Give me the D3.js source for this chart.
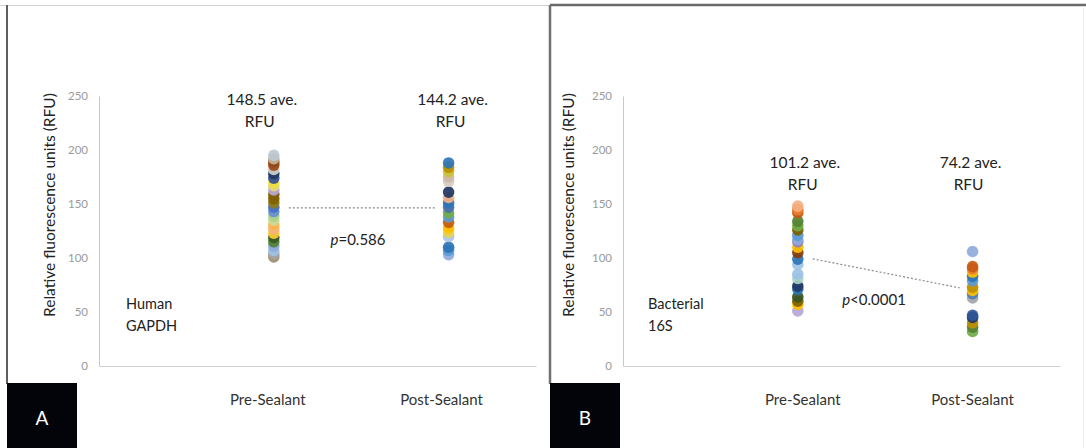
<!DOCTYPE html>
<html>
<head>
<meta charset="utf-8">
<script src="https://cdn.jsdelivr.net/npm/d3@7/dist/d3.min.js"></script>
<style>
  body { margin: 0; background: #fff; }
  svg { display: block; font-family: Lato, "Open Sans", sans-serif; }
</style>
</head>
<body>
<svg id="chart" width="1086" height="448"></svg>
<script>
// categories and ticks
var categories = ["Pre-Sealant", "Post-Sealant"];
var yTicks = [0, 50, 100, 150, 200, 250];

// panel A - human GAPDH (top to bottom)
var gapdhPre = [195, 192, 189, 186, 182, 178, 174, 170, 167, 163, 159, 155, 151, 147, 143, 139, 135, 131, 127, 123, 119, 115, 111, 107, 104, 101];
var gapdhPreColors = ["#BCC8D2", "#C7B497", "#8E4A1F", "#9E480E", "#D0CFCB", "#1F3864", "#34508F", "#EEDD44", "#E9D86A", "#B6A9D8", "#7F6000", "#806000", "#8F7A1A", "#4472C4", "#698ED0", "#A9D18E", "#C8DC9A", "#FFB347", "#F4B183", "#FFCD33", "#385723", "#548235", "#8FAADC", "#9DC3E6", "#A5A5A5", "#A08C6E"];
var gapdhPost = [188, 184, 180, 175, 171, 161, 156, 151, 147, 142, 138, 133, 128, 124, 120, 110, 107, 103];
var gapdhPostColors = ["#2E75B6", "#BF9000", "#C9C23A", "#CDB8A8", "#D6CBC0", "#203864", "#F4B183", "#2E75B6", "#4A6FB0", "#70AD47", "#5B9BD5", "#C55A11", "#FFC000", "#E8D24A", "#A9C4E8", "#2E75B6", "#5B9BD5", "#8FAADC"];
var gapdhLine = [146.4, 146.4];

// panel B - bacterial 16S
var bactPre = [148, 145, 142, 134, 130, 126, 121, 117, 115, 110, 105, 99, 94, 85, 81, 74, 71, 64, 60, 57, 51];
var bactPreColors = ["#F4B183", "#ED7D31", "#C55A11", "#548235", "#70AD47", "#7F6000", "#5B9BD5", "#8FAADC", "#8E7CC3", "#FFC000", "#843C0C", "#2E75B6", "#9DC3E6", "#9DC3E6", "#A9D1C4", "#1F3864", "#2E75B6", "#375623", "#7F6000", "#FFC000", "#B4A7D6"];
var bactPost = [106, 92, 90, 87, 83, 79, 73, 70, 67, 63, 47, 45, 40, 36, 32];
var bactPostColors = ["#8FAADC", "#C55A11", "#ED7D31", "#FFC000", "#2E75B6", "#5B9BD5", "#BF9000", "#FFC000", "#4A7EBB", "#A5A5A5", "#2F5597", "#203864", "#BF9000", "#548235", "#70AD47"];
var bactLine = [102, 70];

var panels = [
  { left: 99, letter: "A", border: 7, pre: gapdhPre, preC: gapdhPreColors, post: gapdhPost, postC: gapdhPostColors,
    line: gapdhLine, aveText: ["148.5 ave.", "144.2 ave."], aveY: 105, aveDx: [-12, 4], titleX: 50,
    pText: "=0.586", pPos: [358, 245], gene: ["Human", "GAPDH"], geneX: 126, catDx: [-6, -7] },
  { left: 623, letter: "B", border: 550, pre: bactPre, preC: bactPreColors, post: bactPost, postC: bactPostColors,
    line: bactLine, aveText: ["101.2 ave.", "74.2 ave."], aveY: 168, aveDx: [7, -2], titleX: 569,
    pText: "<0.0001", pPos: [874, 305], gene: ["Bacterial", "16S"], geneX: 648, catDx: [5, 0] }
];

var svg = d3.select("#chart");

// outer frame lines
svg.append("line").attr("x1", 0).attr("x2", 550).attr("y1", 5.5).attr("y2", 5.5)
  .attr("stroke", "#d4d4d4").attr("stroke-width", 1);
svg.append("line").attr("x1", 550).attr("x2", 1086).attr("y1", 5).attr("y2", 5)
  .attr("stroke", "#6a6a6a").attr("stroke-width", 2.5);
svg.append("line").attr("x1", 1083.5).attr("x2", 1083.5).attr("y1", 6).attr("y2", 448)
  .attr("stroke", "#eeeeee").attr("stroke-width", 1);

var defs = svg.append("defs");
defs.append("filter").attr("id", "soft")
  .append("feGaussianBlur").attr("stdDeviation", 0.55);

panels.forEach(function(p) {
  var g = svg.append("g");

  var x = d3.scaleLinear().domain([0, 2.5]).range([p.left, p.left + 437]);
  var y = d3.scaleLinear().domain([0, 250]).range([366, 96]);

  // panel left border
  g.append("line")
    .attr("x1", p.border).attr("x2", p.border).attr("y1", 5).attr("y2", 384)
    .attr("stroke", p.letter == "A" ? "#5f5f5f" : "#707070")
    .attr("stroke-width", p.letter == "A" ? 2 : 2.5);

  // y axis
  var yAxis = g.append("g")
    .attr("transform", "translate(" + p.left + ",0)")
    .call(d3.axisLeft(y).tickValues(yTicks).tickSize(0).tickPadding(11));
  yAxis.select(".domain").attr("stroke", "#c8c8c8");
  yAxis.selectAll("text").attr("fill", "#9a9a9a").style("font-size", "11.5px")
    .style("font-family", "Lato, sans-serif");

  // x baseline
  var xAxis = g.append("g")
    .attr("transform", "translate(0," + y(0) + ")")
    .call(d3.axisBottom(x).tickValues([]).tickSizeOuter(0));
  xAxis.select(".domain").attr("stroke", "#d0d0d0");

  // y title
  g.append("text")
    .attr("transform", "translate(" + (p.titleX + 5) + "," + y(149) + ") rotate(-90)")
    .attr("text-anchor", "middle")
    .attr("fill", "#222")
    .style("font-size", "15.5px")
    .text("Relative fluorescence units (RFU)");

  // dashed line between the groups, kept clear of the dot columns
  var x1 = x(1), x2 = x(2);
  var t0 = 15 / (x2 - x1), t1 = 1 - 13 / (x2 - x1);
  var yA = p.line[0], yB = p.line[1];
  g.append("line")
    .attr("x1", x1 + t0 * (x2 - x1)).attr("y1", y(yA + t0 * (yB - yA)))
    .attr("x2", x1 + t1 * (x2 - x1)).attr("y2", y(yA + t1 * (yB - yA)))
    .attr("stroke", "#8a8a8a")
    .attr("stroke-width", 1.2)
    .attr("stroke-dasharray", "2,2");

  // dots
  var cols = [
    { cx: 1, vals: p.pre, colors: p.preC },
    { cx: 2, vals: p.post, colors: p.postC }
  ];
  cols.forEach(function(c) {
    g.append("g").attr("filter", "url(#soft)")
      .selectAll("circle")
      .data(c.vals.slice().reverse())
      .enter()
      .append("circle")
      .attr("cx", x(c.cx))
      .attr("cy", function(d) { return y(d); })
      .attr("r", 5.8)
      .attr("fill", function(d, i) { return c.colors[c.vals.length - 1 - i]; })
      .attr("fill-opacity", 0.92);
  });

  // average labels
  [1, 2].forEach(function(k) {
    var t = g.append("text")
      .attr("text-anchor", "middle")
      .attr("fill", "#222")
      .style("font-size", "15.5px");
    t.append("tspan").attr("x", x(k) + p.aveDx[k - 1]).attr("y", p.aveY).text(p.aveText[k - 1]);
    t.append("tspan").attr("x", x(k) + p.aveDx[k - 1] - 2).attr("y", p.aveY + 22).text("RFU");
  });

  // p value
  var pt = g.append("text")
    .attr("x", p.pPos[0]).attr("y", p.pPos[1])
    .attr("text-anchor", "middle")
    .attr("fill", "#222")
    .style("font-size", "15px");
  pt.append("tspan").style("font-style", "italic").text("p");
  pt.append("tspan").text(p.pText);

  // gene label
  var gt = g.append("text").attr("fill", "#222").style("font-size", "14.5px");
  gt.append("tspan").attr("x", p.geneX).attr("y", 309).text(p.gene[0]);
  gt.append("tspan").attr("x", p.geneX).attr("y", 331).text(p.gene[1]);

  // category labels
  categories.forEach(function(cat, i) {
    g.append("text")
      .attr("x", x(i + 1) + p.catDx[i])
      .attr("y", 405)
      .attr("text-anchor", "middle")
      .attr("fill", "#333")
      .style("font-size", "15px")
      .text(cat);
  });

  // letter box
  g.append("rect")
    .attr("x", p.border).attr("y", 383)
    .attr("width", 70).attr("height", 65)
    .attr("fill", "#03030a");
  g.append("text")
    .attr("x", p.border + 35).attr("y", 425)
    .attr("text-anchor", "middle")
    .attr("fill", "#fff")
    .style("font-size", "19px")
    .text(p.letter);
});
</script>
</body>
</html>
